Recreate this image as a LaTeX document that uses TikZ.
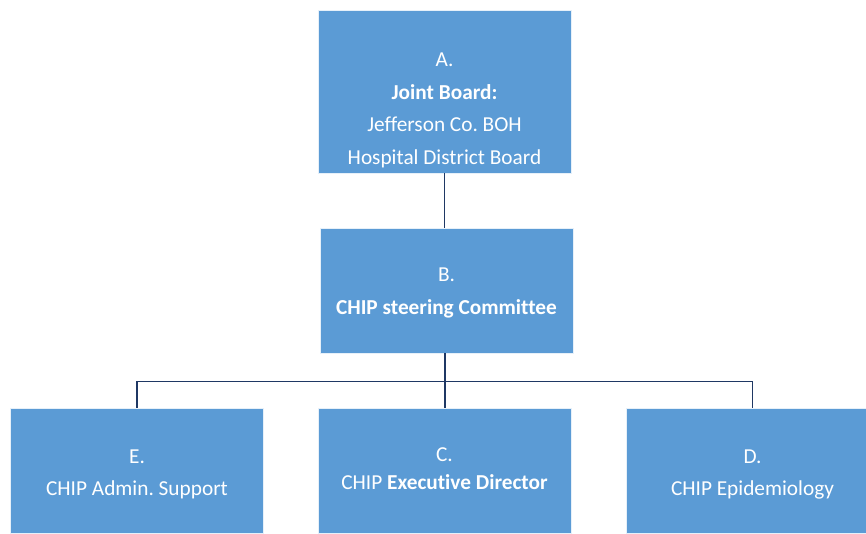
\documentclass[tikz,border=0pt]{standalone}
\usepackage{fontspec}
\setmainfont[Ligatures=NoCommon]{Carlito}
\frenchspacing
\definecolor{boxblue}{HTML}{5B9BD5}
\definecolor{linenavy}{HTML}{1F3864}
\begin{document}
\begin{tikzpicture}[x=1pt,y=1pt,
  orgbox/.style={draw=white!85!boxblue,line width=0.6pt,fill=boxblue,minimum width=253pt,inner sep=0pt},
  boxtext/.style={text=white,align=center,inner sep=0pt,font=\fontsize{21.3}{32.5}\selectfont},
  conn/.style={draw=linenavy,line width=1.3pt}]
\useasboundingbox (0,0) rectangle (866,533);
\node[orgbox,minimum height=163pt] (A) at (444.5,441.5) {};
\node[orgbox,minimum height=125pt] (B) at (446.5,242.5) {};
\node[orgbox,minimum height=125pt] (E) at (137,62.5) {};
\node[orgbox,minimum height=125pt] (C) at (444.5,62.5) {};
\node[orgbox,minimum height=125pt] (D) at (752.5,62.5) {};
\node[boxtext] (At) at (444.5,422.5) {A.\\\textbf{Joint Board:}\\Jefferson Co. BOH\\Hospital District Board};
\node[boxtext] (Bt) at (446.5,240) {B.\\\textbf{CHIP steering Committee}};
\node[boxtext] (Et) at (137,58.5) {E.\\CHIP Admin. Support};
\node[boxtext] (Ct) at (444.5,64) {C.\\[-4.5pt]CHIP \textbf{Executive Director}};
\node[boxtext] (Dt) at (752.5,58.5) {D.\\CHIP Epidemiology};
\coordinate (j) at (445,151.5);
\draw[conn] (A.south) -- (A.south |- B.north);
\draw[conn] (j |- B.south) -- (j |- C.north);
\draw[conn] (E.north) |- (j) -| (D.north);
\end{tikzpicture}
\end{document}
